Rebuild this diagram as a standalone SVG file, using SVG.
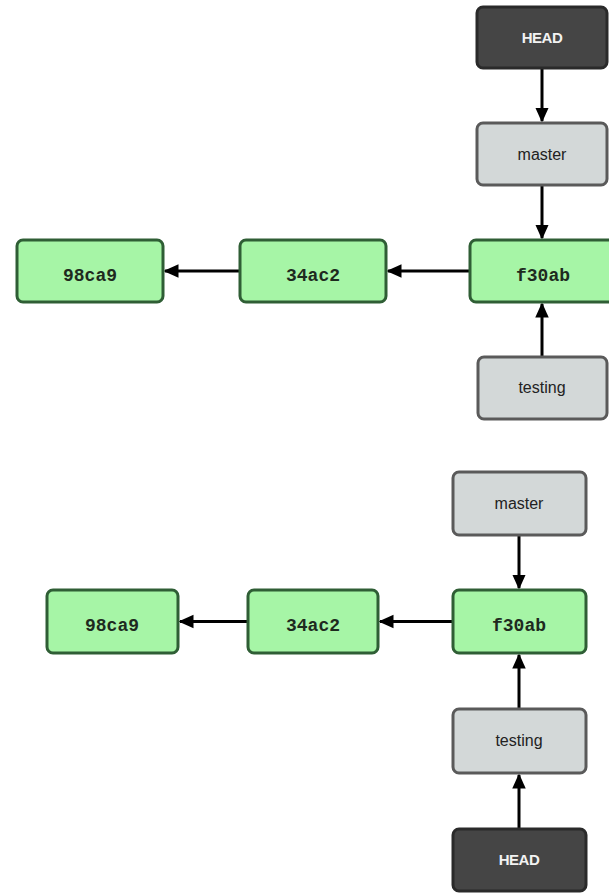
<svg xmlns="http://www.w3.org/2000/svg" width="609" height="893" viewBox="0 0 609 893">
<defs>
<style>
.commit rect{fill:#a6f5a6;stroke:#2f5e35;stroke-width:3}
.branch rect{fill:#d3d8d8;stroke:#5a5a5a;stroke-width:3}
.head rect{fill:#454545;stroke:#2a2a2a;stroke-width:3}
.commit text{font-family:"Liberation Mono","Courier New",monospace;font-weight:bold;font-size:18px;fill:#1e2a1e;text-anchor:middle}
.branch text{font-family:"Liberation Sans",Arial,sans-serif;font-size:16px;fill:#222;text-anchor:middle}
.head text{font-family:"Liberation Sans",Arial,sans-serif;font-weight:bold;font-size:15px;fill:#f2f2f2;text-anchor:middle;letter-spacing:-0.5px}
.edge{stroke:#000;stroke-width:3;fill:none;marker-end:url(#arrow)}
</style>
<marker id="arrow" viewBox="0 0 10 10" refX="9" refY="5" markerWidth="5" markerHeight="5" orient="auto" markerUnits="strokeWidth">
<path d="M0,0.5 L10,5 L0,9.5 z" fill="#000"/>
</marker>
</defs>

<g id="connectors">
<line class="edge" x1="542" y1="69" x2="542" y2="121"/>
<line class="edge" x1="542" y1="186" x2="542" y2="238"/>
<line class="edge" x1="542" y1="356" x2="542" y2="304"/>
<line class="edge" x1="470" y1="271" x2="388" y2="271"/>
<line class="edge" x1="240" y1="271" x2="165" y2="271"/>
<line class="edge" x1="519" y1="536" x2="519" y2="588"/>
<line class="edge" x1="519" y1="708" x2="519" y2="655"/>
<line class="edge" x1="519" y1="828" x2="519" y2="775"/>
<line class="edge" x1="453" y1="621.5" x2="380" y2="621.5"/>
<line class="edge" x1="248" y1="621.5" x2="180" y2="621.5"/>
</g>

<g id="head1" class="head"><rect x="477" y="7" width="130" height="61" rx="6"/><text x="542" y="43">HEAD</text></g>
<g id="master1" class="branch"><rect x="477" y="123" width="130" height="62" rx="6"/><text x="542" y="160">master</text></g>
<g id="f30ab1" class="commit"><rect x="470" y="240" width="146" height="62" rx="6"/><text x="543" y="281">f30ab</text></g>
<g id="c34ac2_1" class="commit"><rect x="240" y="240" width="146" height="62" rx="6"/><text x="313" y="281">34ac2</text></g>
<g id="c98ca9_1" class="commit"><rect x="17" y="240" width="146" height="62" rx="6"/><text x="90" y="281">98ca9</text></g>
<g id="testing1" class="branch"><rect x="478" y="357" width="129" height="62" rx="6"/><text x="542" y="393">testing</text></g>

<g id="master2" class="branch"><rect x="453" y="472" width="133" height="63" rx="6"/><text x="519" y="509">master</text></g>
<g id="f30ab2" class="commit"><rect x="453" y="590" width="133" height="63" rx="6"/><text x="519" y="631">f30ab</text></g>
<g id="c34ac2_2" class="commit"><rect x="248" y="590" width="130" height="63" rx="6"/><text x="313" y="631">34ac2</text></g>
<g id="c98ca9_2" class="commit"><rect x="47" y="590" width="131" height="63" rx="6"/><text x="112" y="631">98ca9</text></g>
<g id="testing2" class="branch"><rect x="453" y="709" width="133" height="64" rx="6"/><text x="519" y="746">testing</text></g>
<g id="head2" class="head"><rect x="453" y="829" width="133" height="62" rx="6"/><text x="519" y="865">HEAD</text></g>
</svg>
